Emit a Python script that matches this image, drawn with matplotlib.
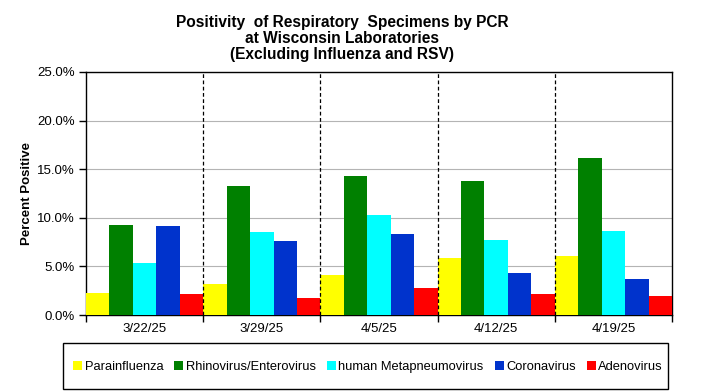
import numpy as np
import matplotlib
matplotlib.use("Agg")
import matplotlib.pyplot as plt
from matplotlib.patches import Patch, Rectangle
from matplotlib.ticker import FuncFormatter, MultipleLocator

plt.rcParams["font.family"] = ["Liberation Sans", "DejaVu Sans"]

# --- data ---
WEEKS = ["3/22/25", "3/29/25", "4/5/25", "4/12/25", "4/19/25"]
SERIES = ["Parainfluenza", "Rhinovirus/Enterovirus", "human Metapneumovirus",
          "Coronavirus", "Adenovirus"]
PARAINFLUENZA = [2.25, 3.2, 4.1, 5.9, 6.1]
RHINO_ENTERO = [9.3, 13.3, 14.3, 13.8, 16.2]
HMPV = [5.4, 8.5, 10.25, 7.7, 8.6]
CORONAVIRUS = [9.2, 7.6, 8.3, 4.3, 3.7]
ADENOVIRUS = [2.15, 1.8, 2.75, 2.15, 1.95]

COLORS = ["#FFFF00", "#008000", "#00FFFF", "#0033CC", "#FF0000"]

W, H = 704, 391
fig = plt.figure(figsize=(W / 100, H / 100), dpi=100)
ax = fig.add_axes([86 / W, 1 - 315 / H, (672 - 86) / W, (315 - 72) / H])

values = [PARAINFLUENZA, RHINO_ENTERO, HMPV, CORONAVIRUS, ADENOVIRUS]
x = np.arange(len(WEEKS))
bw = 1.0 / len(SERIES)
for i, (vals, col) in enumerate(zip(values, COLORS)):
    ax.bar(x - 0.5 + i * bw, vals, width=bw, align="edge", color=col,
           edgecolor="none", zorder=3)

ax.set_xlim(-0.5, len(WEEKS) - 0.5)
ax.set_ylim(0, 25)
ax.yaxis.set_major_locator(MultipleLocator(5))
ax.yaxis.set_major_formatter(FuncFormatter(lambda v, _: f"{v:.1f}%"))
ax.grid(axis="y", color="#b4b4b4", linewidth=0.8, zorder=0)

# dashed separators between weeks
for b in x[:-1] + 0.5:
    ax.axvline(b, color="black", linestyle=(0, (3, 2)), linewidth=0.9, zorder=4)

ax.set_xticks(x)
ax.set_xticklabels(WEEKS)
ax.set_xticks(np.arange(-0.5, len(WEEKS)), minor=True)
ax.tick_params(axis="x", which="major", length=0, pad=6, labelsize=9.5)
ax.tick_params(axis="x", which="minor", length=5, width=1, direction="out")
ax.tick_params(axis="y", length=5, width=1, direction="out", labelsize=9.5, pad=3)

for s in ax.spines.values():
    s.set_linewidth(1.0)
    s.set_color("black")

ax.set_ylabel("Percent Positive", fontsize=9.5, fontweight="bold", labelpad=3)

fig.text(342 / W, 1 - 15 / H,
         "Positivity  of Respiratory  Specimens by PCR\nat Wisconsin Laboratories\n(Excluding Influenza and RSV)",
         ha="center", va="top", fontsize=11.2, fontweight="bold", linespacing=1.1)

# legend box below the plot
fig.patches.append(Rectangle((63 / W, 1 - 389 / H), (668 - 63) / W, (389 - 343) / H,
                             transform=fig.transFigure, facecolor="white",
                             edgecolor="black", linewidth=1.0, zorder=1))
handles = [Patch(facecolor=c, edgecolor="none", label=s) for s, c in zip(SERIES, COLORS)]
leg = fig.legend(handles=handles, loc="center", ncol=5,
                 bbox_to_anchor=(368 / W, 1 - 367 / H),
                 fontsize=9.3, frameon=False,
                 handlelength=0.7, handleheight=0.7, handletextpad=0.2,
                 columnspacing=0.85, borderpad=0, borderaxespad=0)
leg.set_zorder(2)

fig.savefig("out.png", dpi=100)
